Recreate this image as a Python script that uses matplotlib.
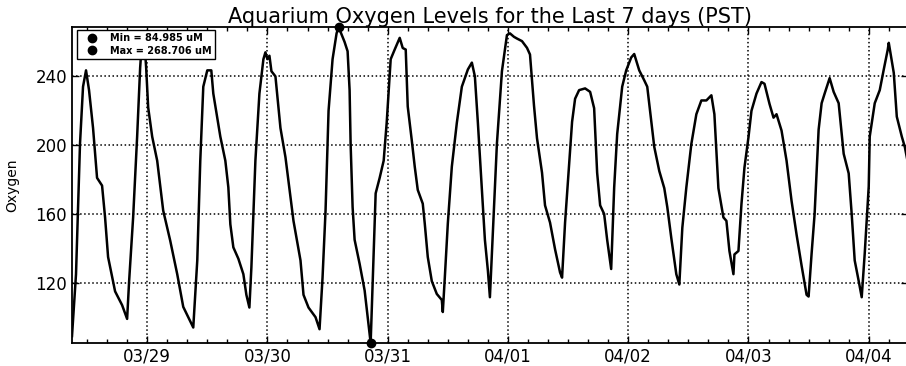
import datetime as dt
import numpy as np
import matplotlib
matplotlib.use('Agg')
import matplotlib.pyplot as plt
import matplotlib.dates as mdates

# Oxygen readings (hours since 03/28 09:00 PST, uM)
inicio = dt.datetime(2013, 3, 28, 9, 0)
horas = [
    0.0, 0.8, 1.6, 2.2, 2.8, 3.4, 4.2, 5.0, 6.0, 6.6, 7.2, 8.6, 10.0, 11.0,
    11.4, 12.2, 13.0, 13.6, 14.0, 14.4, 14.8, 15.2, 16.0, 17.0, 18.2, 19.6,
    21.0, 22.2, 23.2, 24.2, 25.0, 25.6, 26.2, 27.0, 27.8, 28.2, 29.6, 30.6,
    31.2, 31.6, 32.2, 33.2, 34.2, 34.8, 35.4, 35.8, 36.6, 37.4, 38.2, 38.6,
    39.0, 39.4, 39.8, 40.6, 41.6, 42.6, 44.2, 45.6, 46.2, 47.2, 48.6, 49.4,
    50.0, 50.6, 51.2, 52.0, 52.8, 53.2, 54.4, 55.0, 55.4, 55.6, 56.0, 56.4,
    57.4, 58.4, 59.0, 59.6, 60.6, 61.4, 62.2, 62.8, 63.6, 64.4, 65.4, 66.0,
    66.6, 67.0, 67.8, 68.4, 69.0, 70.0, 70.4, 71.0, 71.8, 72.8, 73.8, 74.0,
    74.4, 75.0, 75.8, 76.8, 77.8, 79.0, 79.8, 80.4, 81.0, 81.8, 82.4, 83.0,
    83.4, 84.0, 84.8, 85.8, 86.8, 87.4, 88.2, 88.8, 89.8, 90.8, 91.4, 92.2,
    92.8, 93.8, 94.4, 95.4, 96.4, 97.4, 97.8, 98.4, 99.2, 99.8, 100.4, 101.2,
    102.4, 103.4, 104.2, 104.8, 105.4, 106.2, 106.8, 107.2, 107.6, 108.2,
    108.8, 109.8, 110.6, 111.6, 112.2, 113.2, 114.2, 114.8, 115.6, 116.2,
    117.2, 118.2, 118.8, 119.6, 120.6, 121.2, 121.8, 122.6, 123.6, 124.6,
    125.6, 126.6, 127.6, 128.2, 129.0, 130.0, 130.6, 131.2, 132.0, 132.2,
    133.0, 133.6, 134.2, 135.0, 135.6, 136.6, 137.6, 138.2, 139.2, 140.0,
    140.6, 141.6, 142.6, 143.6, 144.6, 145.6, 146.6, 147.0, 147.6, 148.2,
    149.0, 149.6, 150.2, 151.2, 152.0, 153.0, 154.0, 155.0, 155.6, 156.2,
    157.0, 157.6, 158.2, 159.0, 159.2, 160.2, 161.2, 162.0, 162.8, 163.0,
    164.0, 164.6, 165.6, 166.2, 166.8,
]
oxigenio = [
    89, 125, 201, 234, 243.5, 232, 210, 181, 176.5, 158, 135, 115, 107, 99,
    121, 158, 205, 245, 262, 262, 245, 222, 205, 191, 162, 144.5,
    125, 106, 100, 94, 133, 191, 234, 243.5, 243.5, 230, 205, 191,
    175.5, 154, 140.6, 134, 125, 113, 105.6, 129, 191, 230, 250, 254,
    250, 252, 243, 240, 210, 193, 156, 133, 113, 105.6, 100, 93,
    123, 162, 220, 250, 265, 268.706, 260, 254.6, 232, 201, 164, 145,
    131, 115.5, 100, 84.985, 172, 181, 191, 213, 250, 255.6, 262.4, 256.5,
    255.6, 222.5, 203, 187.5, 174, 166, 154.4, 135, 121, 113.5, 110, 103,
    123, 154.4, 187.5, 213, 234, 244, 248, 240, 213, 174, 145, 127,
    111.6, 150.5, 201, 243, 264, 265, 263, 262, 260.5, 256.6, 252.7, 223,
    204, 184, 165, 155, 139.5, 126, 123, 155, 188, 213.6, 227, 232,
    233, 231, 221.5, 184, 165, 160, 145, 136.5, 128, 175.4,
    206.5, 234, 243.5, 251, 253, 243.5, 237.7, 234, 214, 199,
    185, 175, 164, 146, 125, 119, 152, 175.4, 200.7, 218,
    226, 226, 229, 218, 175, 158, 156, 138.5, 125, 136.5,
    138.5, 165.7, 187, 204.6, 220, 230, 236.7, 235.7, 224, 216,
    218, 208.5, 191, 167.6, 148, 130, 113, 112, 137, 160,
    209, 224.4, 230, 239, 231, 224.4, 195, 183.6, 160, 133,
    121, 111.6, 137, 176, 205, 224.4, 232, 244, 255.6, 259.5,
    242, 216.6, 205, 199, 190,
]
yticks = [120, 160, 200, 240]

tempos = [inicio + dt.timedelta(hours=h) for h in horas]
valores = np.array(oxigenio)
i_min = int(np.argmin(valores))
i_max = int(np.argmax(valores))

fig = plt.figure(figsize=(9.06, 3.66), dpi=100)
ax = fig.add_axes([72 / 906, 1 - 343 / 366, 1 - 72 / 906 + 0.002, (343 - 27) / 366])

ax.plot(tempos, valores, color='black', lw=1.8, zorder=3)
ax.plot([tempos[i_min]], [valores[i_min]], 'o', color='black', ms=6,
        clip_on=False, zorder=4, label='Min = %.3f uM' % valores[i_min])
ax.plot([tempos[i_max]], [valores[i_max]], 'o', color='black', ms=6,
        clip_on=False, zorder=4, label='Max = %.3f uM' % valores[i_max])

ax.set_xlim(tempos[0], tempos[-1])
ax.set_ylim(valores.min(), valores.max())
ax.set_yticks(yticks)

ax.xaxis.set_major_locator(mdates.DayLocator())
ax.xaxis.set_major_formatter(mdates.DateFormatter('%m/%d'))
ax.xaxis.set_minor_locator(mdates.HourLocator(byhour=range(0, 24, 4)))

ax.tick_params(which='both', direction='in', top=True, right=True, labelsize=12)
ax.tick_params(which='major', length=5, width=1)
ax.tick_params(which='minor', length=3, width=1)
for s in ax.spines.values():
    s.set_linewidth(1.3)

ax.grid(True, which='major', color='black', linestyle=':', linewidth=1.1)
ax.set_ylabel('Oxygen', fontsize=10)
ax.yaxis.set_label_coords(-0.063, 0.5)
ax.set_title('Aquarium Oxygen Levels for the Last 7 days (PST)', fontsize=15, pad=3)

leg = ax.legend(loc='upper left', bbox_to_anchor=(77 / 906, 1 - 30 / 366),
                bbox_transform=fig.transFigure, borderaxespad=0,
                numpoints=1, prop={'size': 7, 'weight': 'bold'}, fancybox=False,
                edgecolor='black', framealpha=1, handletextpad=0.7,
                borderpad=0.35, labelspacing=0.25, handlelength=2.3)
leg.get_frame().set_linewidth(1.0)

fig.savefig('out.png', dpi=100)
